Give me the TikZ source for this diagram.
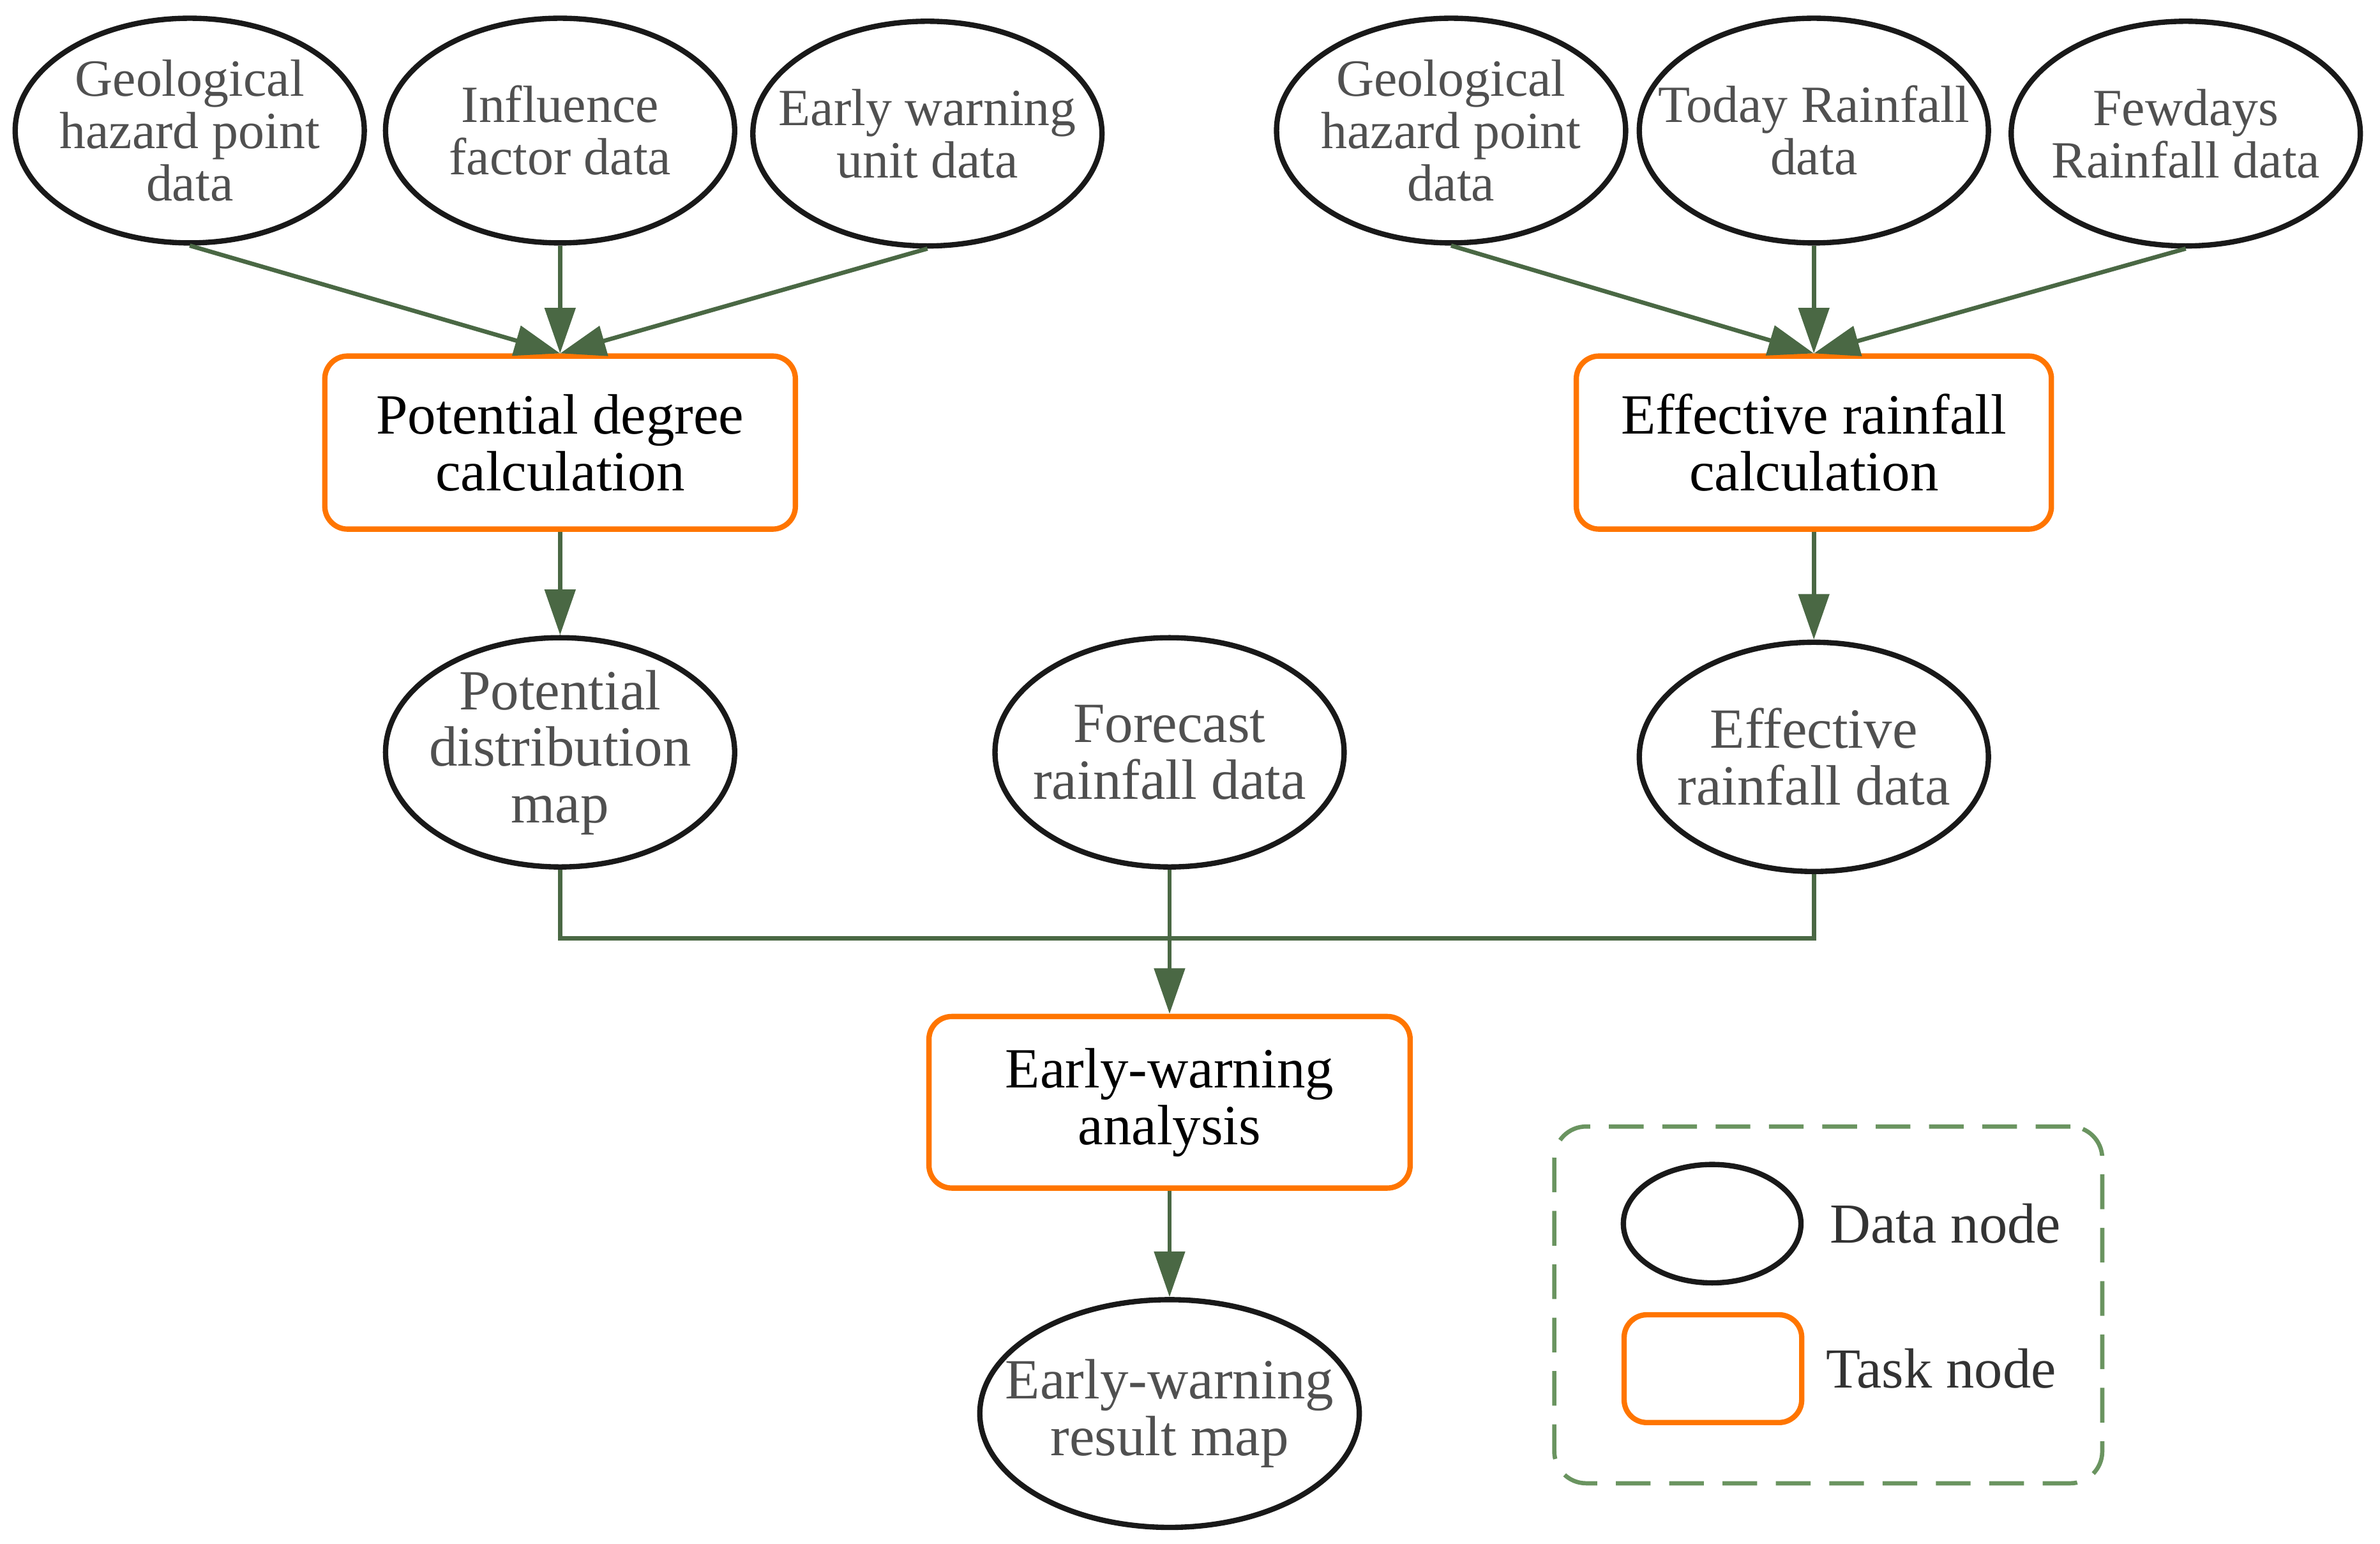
\documentclass[tikz,border=0pt]{standalone}
\usepackage{fontspec}
\setmainfont{Liberation Serif}
\usepackage{tikz}
\usetikzlibrary{arrows.meta, positioning, shapes.geometric}
\definecolor{flowgreen}{RGB}{74,104,68}
\definecolor{keygreen}{RGB}{106,148,96}
\definecolor{taskorange}{RGB}{255,117,0}
\definecolor{datagray}{RGB}{80,80,80}
\definecolor{keygray}{RGB}{51,51,51}
\tikzset{%
	data/.style={draw=black!90, ellipse, line width=2pt, minimum width=4.6cm, minimum height=2.96cm,%
		inner sep=-0.5cm, align=center, text=datagray, font=\fontsize{19.6}{19.6}\selectfont},
	bigdata/.style={data, minimum height=3.02cm, font=\fontsize{21.3}{21.2}\selectfont},
	task/.style={draw=taskorange, rectangle, line width=2pt, rounded corners=0.3cm,%
		minimum width=6.2cm, minimum height=2.28cm, align=center, font=\fontsize{21.3}{21.3}\selectfont},
	flow/.style={-{Triangle[length=0.6cm, width=0.4cm]}, line width=1.6pt, draw=flowgreen},
	link/.style={line width=1.6pt, draw=flowgreen},
	keybox/.style={draw=keygreen, rectangle, line width=1.6pt, rounded corners=0.42cm,%
		dash pattern=on 13pt off 7pt, minimum width=7.22cm, minimum height=4.7cm},
	keytext/.style={inner sep=0pt, text=keygray, font=\fontsize{21.2}{19.6}\selectfont}
}
\begin{document}
\begin{tikzpicture}
	\useasboundingbox (0,0) rectangle (31.36,-20.34);

	\node[data] (geo1) at (2.5,-1.72) {Geological\\hazard point\\data};
	\node[data] (infl) at (7.38,-1.72) {Influence\\factor data};
	\node[data] (unit) at (12.22,-1.76) {Early warning\\unit data};
	\node[data] (geo2) at (19.12,-1.72) {Geological\\hazard point\\data};
	\node[data] (today) at (23.9,-1.72) {Today Rainfall\\data};
	\node[data] (few) at (28.8,-1.76) {Fewdays\\Rainfall data};
	\node[task, below=1.42cm of infl] (pot) {Potential degree\\calculation};
	\node[task, below=1.42cm of today, minimum width=6.26cm] (eff) {Effective rainfall\\calculation};
	\node[bigdata, below=1.36cm of pot] (potmap) {Potential\\distribution\\map};
	\node[bigdata, below=1.42cm of eff] (effmap) {Effective\\rainfall data};
	\node[bigdata, right=3.36cm of potmap] (fore) {Forecast\\rainfall data};
	\node[task, below=1.9cm of fore, minimum width=6.34cm, minimum height=2.26cm] (warn) {Early-warning\\analysis};
	\node[bigdata, below=1.4cm of warn, minimum width=5cm, minimum height=3cm] (result) {Early-warning\\result map};
	\coordinate (join) at (fore.south |- 0,-12.36);

	\node[keybox] (key) at (24.09,-17.19) {};
	\node[data, minimum width=2.34cm, minimum height=1.56cm] (keydata) at (22.56,-16.12) {};
	\node[task, minimum width=2.34cm, minimum height=1.42cm] (keytask) at (22.57,-18.03) {};
	\node[keytext, right=0.34cm of keydata] (keydatalbl) {Data node};
	\node[keytext, right=0.28cm of keytask] (keytasklbl) {Task node};

	\draw[flow] (geo1.south) to (pot.north);
	\draw[flow] (infl.south) to (pot.north);
	\draw[flow] (unit.south) to (pot.north);
	\draw[flow] (geo2.south) to (eff.north);
	\draw[flow] (today.south) to (eff.north);
	\draw[flow] (few.south) to (eff.north);
	\draw[flow] (pot) to (potmap);
	\draw[flow] (eff) to (effmap);
	\draw[link] (potmap.south) |- (join) -| (effmap.south);
	\draw[flow] (fore) to (warn);
	\draw[flow] (warn) to (result);
\end{tikzpicture}
\end{document}
